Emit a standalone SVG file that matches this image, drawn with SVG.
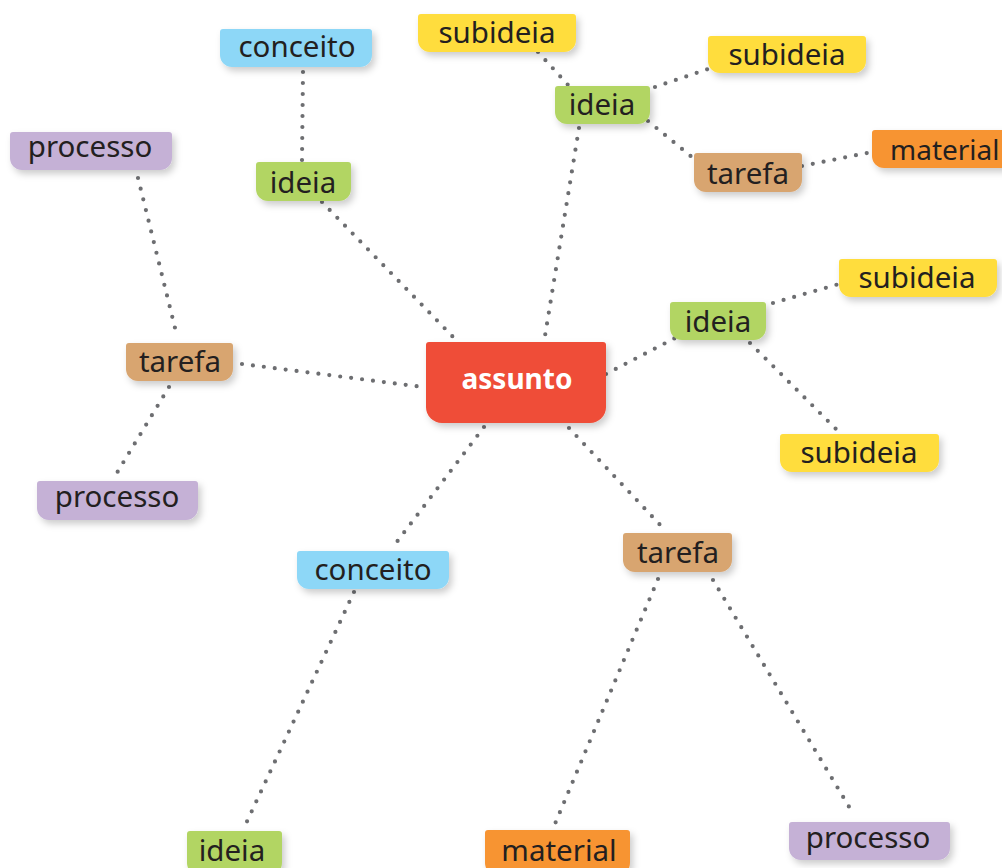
<svg xmlns="http://www.w3.org/2000/svg" width="1002" height="868" viewBox="0 0 1002 868">
<defs>
<filter id="sh" x="-20%" y="-30%" width="150%" height="180%">
<feDropShadow dx="3" dy="4" stdDeviation="3.5" flood-color="#000" flood-opacity="0.2"/>
</filter>
</defs>
<style>
.c line{stroke:#6d6e71;stroke-width:4.2;stroke-linecap:round;stroke-dasharray:0 11;fill:none}
.n path{filter:url(#sh)}
.n text{font-family:"Noto Sans","Open Sans",sans-serif;font-size:29.5px;fill:#231f20;text-anchor:middle}
.blue{fill:#8dd7f7}.yel{fill:#ffdd3c}.grn{fill:#b2d564}.tan{fill:#d8a570}.org{fill:#f79433}.pur{fill:#c5b1d6}.red{fill:#ef4e37}
</style>
<rect width="1002" height="868" fill="#fff"/>
<g id="connectors" class="c">
<line x1="303" y1="72" x2="302" y2="160"/>
<line x1="322" y1="202" x2="457" y2="341"/>
<line x1="579" y1="128" x2="544" y2="342"/>
<line x1="538" y1="52" x2="569" y2="86"/>
<line x1="655" y1="87" x2="711" y2="68"/>
<line x1="648" y1="121" x2="693" y2="158"/>
<line x1="802" y1="166" x2="867" y2="153"/>
<line x1="138" y1="178" x2="177" y2="336"/>
<line x1="169" y1="387" x2="112" y2="481"/>
<line x1="242" y1="364" x2="423" y2="387"/>
<line x1="606" y1="374" x2="677" y2="337"/>
<line x1="773" y1="303" x2="839" y2="284"/>
<line x1="750" y1="343" x2="839" y2="432"/>
<line x1="484" y1="427" x2="393" y2="547"/>
<line x1="569" y1="428" x2="664" y2="529"/>
<line x1="354" y1="592" x2="243" y2="830"/>
<line x1="658" y1="579" x2="552" y2="831"/>
<line x1="713" y1="580" x2="854" y2="815"/>
</g>
<g id="n-conceito-top" class="n"><path class="blue" d="M223 29H369A3 3 0 0 1 372 32V55A12 12 0 0 1 360 67H232A12 12 0 0 1 220 55V32A3 3 0 0 1 223 29Z"/><text x="297" y="57">conceito</text></g>
<g id="n-subideia-top" class="n"><path class="yel" d="M421 14H573A3 3 0 0 1 576 17V40A12 12 0 0 1 564 52H430A12 12 0 0 1 418 40V17A3 3 0 0 1 421 14Z"/><text x="497" y="43">subideia</text></g>
<g id="n-subideia-tr" class="n"><path class="yel" d="M711 36H863A3 3 0 0 1 866 39V61A12 12 0 0 1 854 73H720A12 12 0 0 1 708 61V39A3 3 0 0 1 711 36Z"/><text x="787" y="65">subideia</text></g>
<g id="n-ideia-top" class="n"><path class="grn" d="M558 86H647A3 3 0 0 1 650 89V112A12 12 0 0 1 638 124H567A12 12 0 0 1 555 112V89A3 3 0 0 1 558 86Z"/><text x="602" y="115">ideia</text></g>
<g id="n-processo-tl" class="n"><path class="pur" d="M13 132H169A3 3 0 0 1 172 135V158A12 12 0 0 1 160 170H22A12 12 0 0 1 10 158V135A3 3 0 0 1 13 132Z"/><text x="90" y="157">processo</text></g>
<g id="n-ideia-left" class="n"><path class="grn" d="M259 162H348A3 3 0 0 1 351 165V189A12 12 0 0 1 339 201H268A12 12 0 0 1 256 189V165A3 3 0 0 1 259 162Z"/><text x="303" y="193">ideia</text></g>
<g id="n-tarefa-tr" class="n"><path class="tan" d="M697 153H799A3 3 0 0 1 802 156V180A12 12 0 0 1 790 192H706A12 12 0 0 1 694 180V156A3 3 0 0 1 697 153Z"/><text x="748" y="184">tarefa</text></g>
<g id="n-material-tr" class="n"><path class="org" d="M875 130H1010V168H884A12 12 0 0 1 872 156V133A3 3 0 0 1 875 130Z"/><text x="890" y="160" style="text-anchor:start;font-size:28px">material</text></g>
<g id="n-subideia-r" class="n"><path class="yel" d="M842 259H994A3 3 0 0 1 997 262V285A12 12 0 0 1 985 297H851A12 12 0 0 1 839 285V262A3 3 0 0 1 842 259Z"/><text x="917" y="288">subideia</text></g>
<g id="n-ideia-r" class="n"><path class="grn" d="M673 302H763A3 3 0 0 1 766 305V328A12 12 0 0 1 754 340H682A12 12 0 0 1 670 328V305A3 3 0 0 1 673 302Z"/><text x="718" y="332">ideia</text></g>
<g id="n-tarefa-l" class="n"><path class="tan" d="M129 343H230A3 3 0 0 1 233 346V369A12 12 0 0 1 221 381H138A12 12 0 0 1 126 369V346A3 3 0 0 1 129 343Z"/><text x="180" y="372">tarefa</text></g>
<g id="n-assunto" class="n"><path class="red" d="M429 342H603A3 3 0 0 1 606 345V407A16 16 0 0 1 590 423H442A16 16 0 0 1 426 407V345A3 3 0 0 1 429 342Z"/><text x="517" y="389" style="fill:#fff;font-weight:bold;font-size:28px">assunto</text></g>
<g id="n-subideia-lr" class="n"><path class="yel" d="M783 434H936A3 3 0 0 1 939 437V460A12 12 0 0 1 927 472H792A12 12 0 0 1 780 460V437A3 3 0 0 1 783 434Z"/><text x="859" y="463">subideia</text></g>
<g id="n-processo-ll" class="n"><path class="pur" d="M40 481H195A3 3 0 0 1 198 484V508A12 12 0 0 1 186 520H49A12 12 0 0 1 37 508V484A3 3 0 0 1 40 481Z"/><text x="117" y="507">processo</text></g>
<g id="n-tarefa-lr" class="n"><path class="tan" d="M626 533H729A3 3 0 0 1 732 536V560A12 12 0 0 1 720 572H635A12 12 0 0 1 623 560V536A3 3 0 0 1 626 533Z"/><text x="678" y="563">tarefa</text></g>
<g id="n-conceito-low" class="n"><path class="blue" d="M300 551H446A3 3 0 0 1 449 554V577A12 12 0 0 1 437 589H309A12 12 0 0 1 297 577V554A3 3 0 0 1 300 551Z"/><text x="373" y="580">conceito</text></g>
<g id="n-ideia-bottom" class="n"><path class="grn" d="M190 831H279A3 3 0 0 1 282 834V863A12 12 0 0 1 270 875H199A12 12 0 0 1 187 863V834A3 3 0 0 1 190 831Z"/><text x="232" y="861">ideia</text></g>
<g id="n-material-bottom" class="n"><path class="org" d="M488 830H627A3 3 0 0 1 630 833V863A12 12 0 0 1 618 875H497A12 12 0 0 1 485 863V833A3 3 0 0 1 488 830Z"/><text x="559" y="861">material</text></g>
<g id="n-processo-br" class="n"><path class="pur" d="M792 822H947A3 3 0 0 1 950 825V848A12 12 0 0 1 938 860H801A12 12 0 0 1 789 848V825A3 3 0 0 1 792 822Z"/><text x="868" y="848">processo</text></g>
</svg>
